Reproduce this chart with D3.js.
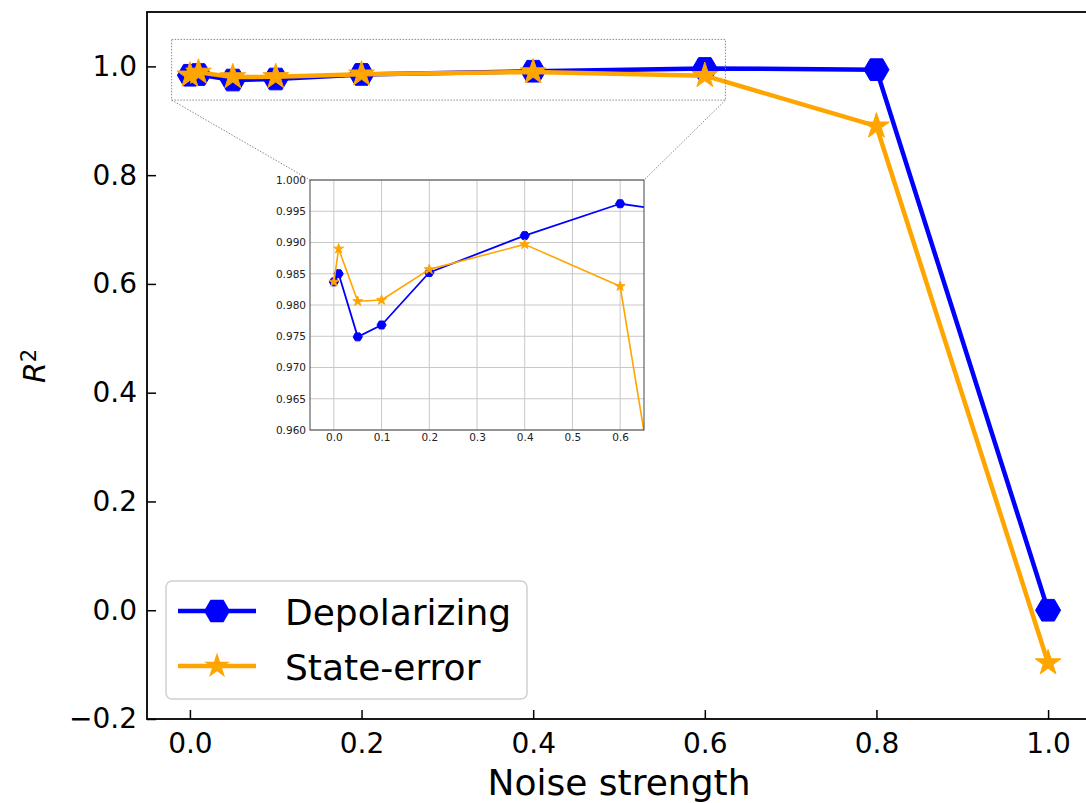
<!DOCTYPE html>
<html>
<head>
<meta charset="utf-8">
<script src="https://cdn.jsdelivr.net/npm/d3@7"></script>
<style>
  html, body { margin: 0; padding: 0; background: #fff; }
  svg { display: block; font-family: "DejaVu Sans", sans-serif; }
</style>
</head>
<body>
<div id="chart"></div>
<script>
// Noise strength vs R^2, two noise models
const noise = [0, 0.01, 0.05, 0.1, 0.2, 0.4, 0.6, 0.8, 1.0];
const depolarizing = [0.9837, 0.9850, 0.9749, 0.9768, 0.9852, 0.9911, 0.9962, 0.994, 0.0];
const stateError = [0.9837, 0.9890, 0.9806, 0.9808, 0.9857, 0.9897, 0.9830, 0.890, -0.097];

const mainXTicks = [0.0, 0.2, 0.4, 0.6, 0.8, 1.0];
const mainYTicks = [-0.2, 0.0, 0.2, 0.4, 0.6, 0.8, 1.0];
const insetXTicks = [0.0, 0.1, 0.2, 0.3, 0.4, 0.5, 0.6];
const insetYTicks = [0.960, 0.965, 0.970, 0.975, 0.980, 0.985, 0.990, 0.995, 1.000];

const seriesNames = ['Depolarizing', 'State-error'];

const BLUE = '#0000ff';
const ORANGE = '#ffa500';

const W = 1086, H = 803;
const margin = { top: 12, left: 147 };
const plotW = 944, plotH = 707;

// hexagon with flat top/bottom (matplotlib 'H')
const hexPath = r => {
    const pts = d3.range(6).map(i => {
        const a = i * Math.PI / 3;
        return [r * Math.cos(a), r * Math.sin(a)];
    });
    return 'M' + pts.map(p => p.join(',')).join('L') + 'Z';
};
// five point star, point up
const starPath = r => {
    const inner = r * 0.382;
    const pts = d3.range(10).map(i => {
        const a = -Math.PI / 2 + i * Math.PI / 5;
        const rr = i % 2 === 0 ? r : inner;
        return [rr * Math.cos(a), rr * Math.sin(a)];
    });
    return 'M' + pts.map(p => p.join(',')).join('L') + 'Z';
};

const svg = d3.select('#chart').append('svg')
    .attr('width', W)
    .attr('height', H);

const g = svg.append('g')
    .attr('transform', `translate(${margin.left},${margin.top})`);

const x = d3.scaleLinear().domain([-0.05, 1.05]).range([0, plotW]);
const y = d3.scaleLinear().domain([-0.2, 1.1]).range([plotH, 0]);

// axes, ticks inward
const xAxis = g.append('g')
    .attr('transform', `translate(0,${plotH})`)
    .call(d3.axisBottom(x).tickValues(mainXTicks).tickSize(-9).tickPadding(14).tickFormat(d3.format('.1f')));
const yAxis = g.append('g')
    .call(d3.axisLeft(y).tickValues(mainYTicks).tickSize(-9).tickPadding(10)
        .tickFormat(d => d3.format('.1f')(d).replace('-', '\u2212')));

[xAxis, yAxis].forEach(ax => {
    ax.select('.domain').remove();
    ax.selectAll('.tick line').attr('stroke', '#000').attr('stroke-width', 1.5);
    ax.selectAll('.tick text')
        .attr('fill', '#000')
        .style('font-size', '28px')
        .style('font-family', '"DejaVu Sans", sans-serif');
});
xAxis.selectAll('.tick text').attr('dy', '0.71em');

// spines
g.append('rect')
    .attr('x', 0).attr('y', 0)
    .attr('width', plotW).attr('height', plotH)
    .attr('fill', 'none')
    .attr('stroke', '#000')
    .attr('stroke-width', 1.8);

// main lines
const drawSeries = (parent, xs, ys, vals, color, lw, shape, r) => {
    const line = d3.line().x((d, i) => xs(noise[i])).y(d => ys(d));
    parent.append('path')
        .datum(vals)
        .attr('d', line)
        .attr('fill', 'none')
        .attr('stroke', color)
        .attr('stroke-width', lw)
        .attr('stroke-linejoin', 'round');
    parent.selectAll(null)
        .data(vals)
        .enter()
        .append('path')
        .attr('transform', (d, i) => `translate(${xs(noise[i])},${ys(d)})`)
        .attr('d', shape(r))
        .attr('fill', color)
        .attr('stroke', color)
        .attr('stroke-width', 1);
};

drawSeries(g, x, y, depolarizing, BLUE, 4.5, hexPath, 12.5);
drawSeries(g, x, y, stateError, ORANGE, 4.5, starPath, 13.5);

// zoom indicator rectangle and connectors
const zoomBox = { x0: -0.0213, x1: 0.624, y0: 0.938, y1: 1.0496 };
const inset = { left: 310, top: 180, width: 334, height: 250 };

const rx0 = margin.left + x(zoomBox.x0), rx1 = margin.left + x(zoomBox.x1);
const ry0 = margin.top + y(zoomBox.y1), ry1 = margin.top + y(zoomBox.y0);

const dotted = sel => sel
    .attr('fill', 'none')
    .attr('stroke', '#8a8a8a')
    .attr('stroke-width', 1)
    .attr('stroke-dasharray', '1.5,1.5');

svg.append('rect')
    .attr('x', rx0).attr('y', ry0)
    .attr('width', rx1 - rx0).attr('height', ry1 - ry0)
    .call(dotted);
svg.append('line')
    .attr('x1', rx0).attr('y1', ry1)
    .attr('x2', inset.left).attr('y2', inset.top)
    .call(dotted);
svg.append('line')
    .attr('x1', rx1).attr('y1', ry1)
    .attr('x2', inset.left + inset.width).attr('y2', inset.top)
    .call(dotted);

// axis labels
svg.append('text')
    .attr('x', margin.left + x(0.5))
    .attr('y', 795)
    .attr('text-anchor', 'middle')
    .style('font-size', '36px')
    .text('Noise strength');

const ylab = svg.append('text')
    .attr('transform', 'translate(45,366) rotate(-90)')
    .attr('text-anchor', 'middle')
    .style('font-size', '30px');
ylab.append('tspan').style('font-style', 'italic').text('R');
ylab.append('tspan').attr('dy', '-0.45em').style('font-size', '21px').text('2');

// legend
const legend = svg.append('g');
legend.append('rect')
    .attr('x', 166).attr('y', 581)
    .attr('width', 361).attr('height', 118)
    .attr('rx', 6)
    .attr('fill', '#fff')
    .attr('fill-opacity', 0.8)
    .attr('stroke', '#d0d0d0')
    .attr('stroke-width', 1.5);

const legendRows = [
    { name: seriesNames[0], color: BLUE, shape: hexPath, r: 13 },
    { name: seriesNames[1], color: ORANGE, shape: starPath, r: 13.5 }
];
legendRows.forEach((d, i) => {
    const ly = 611 + i * 55;
    legend.append('line')
        .attr('x1', 178).attr('x2', 256)
        .attr('y1', ly).attr('y2', ly)
        .attr('stroke', d.color)
        .attr('stroke-width', 4.5);
    legend.append('path')
        .attr('transform', `translate(217,${ly})`)
        .attr('d', d.shape(d.r))
        .attr('fill', d.color);
    legend.append('text')
        .attr('x', 285)
        .attr('y', ly + 14)
        .style('font-size', '36px')
        .attr('fill', '#000')
        .text(d.name);
});

// inset axes
const ig = svg.append('g')
    .attr('transform', `translate(${inset.left},${inset.top})`);

ig.append('rect')
    .attr('width', inset.width).attr('height', inset.height)
    .attr('fill', '#fff');

const ix = d3.scaleLinear().domain([-0.05, 0.65]).range([0, inset.width]);
const iy = d3.scaleLinear().domain([0.96, 1.0]).range([inset.height, 0]);

// grid
ig.append('g')
    .selectAll('line')
    .data(insetXTicks)
    .enter()
    .append('line')
    .attr('x1', d => ix(d)).attr('x2', d => ix(d))
    .attr('y1', 0).attr('y2', inset.height)
    .attr('stroke', '#c8c8c8')
    .attr('stroke-width', 1);
ig.append('g')
    .selectAll('line')
    .data(insetYTicks)
    .enter()
    .append('line')
    .attr('x1', 0).attr('x2', inset.width)
    .attr('y1', d => iy(d)).attr('y2', d => iy(d))
    .attr('stroke', '#c8c8c8')
    .attr('stroke-width', 1);

const ixAxis = ig.append('g')
    .attr('transform', `translate(0,${inset.height})`)
    .call(d3.axisBottom(ix).tickValues(insetXTicks).tickSize(0).tickPadding(4).tickFormat(d3.format('.1f')));
const iyAxis = ig.append('g')
    .call(d3.axisLeft(iy).tickValues(insetYTicks).tickSize(0).tickPadding(4).tickFormat(d3.format('.3f')));
[ixAxis, iyAxis].forEach(ax => {
    ax.select('.domain').remove();
    ax.selectAll('.tick text')
        .attr('fill', '#222')
        .style('font-size', '10.5px')
        .style('font-family', '"DejaVu Sans", sans-serif');
});

svg.append('clipPath')
    .attr('id', 'inset-clip')
    .append('rect')
    .attr('width', inset.width).attr('height', inset.height);

const inner = ig.append('g').attr('clip-path', 'url(#inset-clip)');
drawSeries(inner, ix, iy, depolarizing, BLUE, 1.8, hexPath, 4.6);
drawSeries(inner, ix, iy, stateError, ORANGE, 1.6, starPath, 5.2);

ig.append('rect')
    .attr('width', inset.width).attr('height', inset.height)
    .attr('fill', 'none')
    .attr('stroke', '#444')
    .attr('stroke-width', 1);
</script>
</body>
</html>
